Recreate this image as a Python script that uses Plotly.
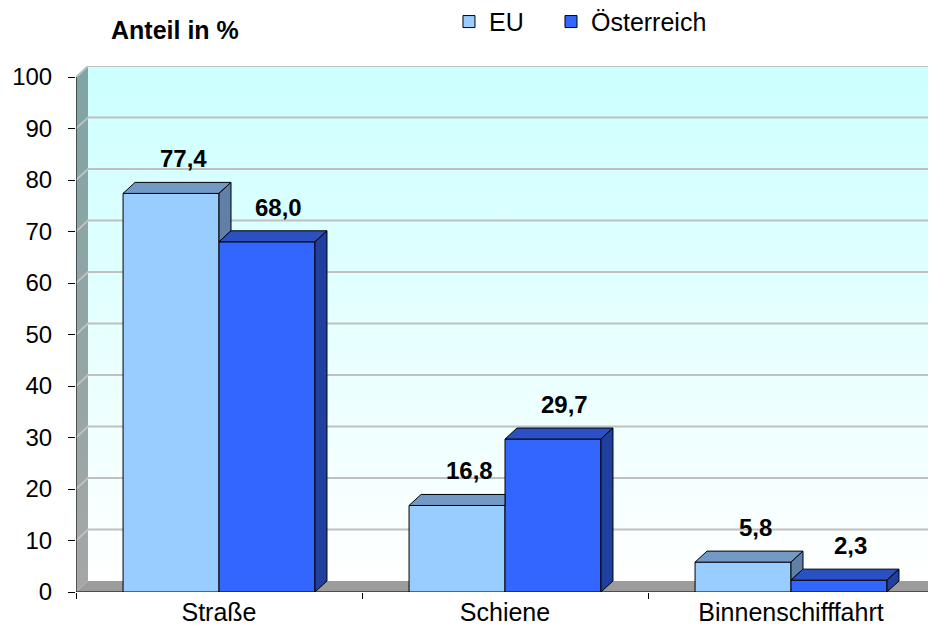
import plotly.graph_objects as go

# ---------------- data ----------------
categories = ["Straße", "Schiene", "Binnenschifffahrt"]
series_names = ["EU", "Österreich"]
eu_values = [77.4, 16.8, 5.8]
at_values = [68.0, 29.7, 2.3]
eu_labels = ["77,4", "16,8", "5,8"]
at_labels = ["68,0", "29,7", "2,3"]
y_tick_values = [0, 10, 20, 30, 40, 50, 60, 70, 80, 90, 100]
y_tick_text = ["0", "10", "20", "30", "40", "50", "60", "70", "80", "90", "100"]
title_text = "Anteil in %"

# ---------------- styling / geometry ----------------
FONT = "Liberation Sans, Arial, sans-serif"
DX = 0.042          # depth offset in category units
DY = 2.14           # depth offset in value units
BARW = 0.3355       # bar width in category units
XMIN, XMAX = -0.5, 2.5
YMAX = 100
YTOP = YMAX + DY
EU_FRONT, EU_TOP, EU_SIDE = "#99ccff", "#7399c6", "#6080a8"
AT_FRONT, AT_TOP, AT_SIDE = "#3366ff", "#2a50c4", "#2040a0"

fig = go.Figure()

# ---- back wall (gradient) ----
fig.add_trace(go.Scatter(
    x=[XMIN + DX, XMAX + 0.05, XMAX + 0.05, XMIN + DX, XMIN + DX],
    y=[DY, DY, YTOP, YTOP, DY],
    mode="lines", line=dict(width=0), fill="toself",
    fillgradient=dict(type="vertical", start=DY, stop=YTOP,
                      colorscale=[[0, "#ffffff"], [1, "#ccffff"]]),
    hoverinfo="skip", showlegend=False, xaxis="x", yaxis="y"))

# ---- left wall (gradient) ----
fig.add_trace(go.Scatter(
    x=[XMIN, XMIN + DX, XMIN + DX, XMIN, XMIN],
    y=[0, DY, YTOP, YMAX, 0],
    mode="lines", line=dict(width=0), fill="toself",
    fillgradient=dict(type="vertical", start=0, stop=YTOP,
                      colorscale=[[0, "#a6a6a6"], [1, "#80a4a4"]]),
    hoverinfo="skip", showlegend=False, xaxis="x", yaxis="y"))

# ---- floor ----
fig.add_trace(go.Scatter(
    x=[XMIN, XMAX + 0.05, XMAX + 0.05, XMIN + DX, XMIN],
    y=[0, 0, DY, DY, 0],
    mode="lines", line=dict(width=0), fill="toself", fillcolor="#9c9c9c",
    hoverinfo="skip", showlegend=False, xaxis="x", yaxis="y"))

# ---- gridlines on walls ----
gx, gy = [], []
for v in y_tick_values[1:]:
    gx += [XMIN, XMIN + DX, XMAX + 0.05, None]
    gy += [v, v + DY, v + DY, None]
fig.add_trace(go.Scatter(x=gx, y=gy, mode="lines",
                         line=dict(color="#c0c0c0", width=2),
                         hoverinfo="skip", showlegend=False, xaxis="x", yaxis="y"))

# ---- axis lines ----
fig.add_trace(go.Scatter(x=[XMIN, XMIN, None, XMIN, XMAX + 0.05],
                         y=[YMAX, 0, None, 0, 0], mode="lines",
                         line=dict(color="black", width=1),
                         hoverinfo="skip", showlegend=False, xaxis="x", yaxis="y"))

# ---- bars (front faces) on overlay axes ----
xpos = list(range(len(categories)))
fig.add_trace(go.Bar(x=xpos, y=eu_values, width=BARW, offset=-BARW,
                     name=series_names[0], legend="legend",
                     marker=dict(color=EU_FRONT, line=dict(color="black", width=1)),
                     xaxis="x2", yaxis="y2"))
fig.add_trace(go.Bar(x=xpos, y=at_values, width=BARW, offset=0,
                     name=series_names[1], legend="legend2",
                     marker=dict(color=AT_FRONT, line=dict(color="black", width=1)),
                     xaxis="x2", yaxis="y2"))


def poly(pts):
    return "M " + " L ".join(f"{x},{y}" for x, y in pts) + " Z"


shapes = []
for i, c in enumerate(xpos):
    he, ha = eu_values[i], at_values[i]
    exl, exr = c - BARW, c
    axl, axr = c, c + BARW
    # EU top face
    if ha < he:
        top = [(exl, he), (exr, he), (exr + DX, he + DY), (exl + DX, he + DY)]
    else:
        top = [(exl, he), (exr, he), (exr, he + DY), (exl + DX, he + DY)]
    shapes.append(dict(type="path", path=poly(top), xref="x2", yref="y2",
                       fillcolor=EU_TOP, line=dict(color="black", width=1), layer="above"))
    # EU side face (visible part above the Österreich bar)
    if he > ha:
        side = [(exr, ha), (exr, he), (exr + DX, he + DY), (exr + DX, ha + DY)]
        shapes.append(dict(type="path", path=poly(side), xref="x2", yref="y2",
                           fillcolor=EU_SIDE, line=dict(color="black", width=1), layer="above"))
    # Österreich top & side
    top = [(axl, ha), (axr, ha), (axr + DX, ha + DY), (axl + DX, ha + DY)]
    side = [(axr, 0), (axr, ha), (axr + DX, ha + DY), (axr + DX, DY)]
    shapes.append(dict(type="path", path=poly(top), xref="x2", yref="y2",
                       fillcolor=AT_TOP, line=dict(color="black", width=1), layer="above"))
    shapes.append(dict(type="path", path=poly(side), xref="x2", yref="y2",
                       fillcolor=AT_SIDE, line=dict(color="black", width=1), layer="above"))

annotations = []
for i, c in enumerate(xpos):
    annotations.append(dict(x=c - BARW / 2 + DX / 2, y=eu_values[i] + DY,
                            xref="x2", yref="y2", text=f"<b>{eu_labels[i]}</b>",
                            showarrow=False, yanchor="bottom", xshift=6, yshift=8,
                            font=dict(family=FONT, size=24, color="black")))
    annotations.append(dict(x=c + BARW / 2 + DX / 2, y=at_values[i] + DY,
                            xref="x2", yref="y2", text=f"<b>{at_labels[i]}</b>",
                            showarrow=False, yanchor="bottom", xshift=6, yshift=8,
                            font=dict(family=FONT, size=24, color="black")))
annotations.append(dict(x=0.1154, y=1.068, xref="paper", yref="paper",
                        text=f"<b>{title_text}</b>", showarrow=False,
                        xanchor="center", yanchor="middle",
                        font=dict(family=FONT, size=25, color="black")))

legend_common = dict(orientation="h", yanchor="middle", xanchor="left",
                     font=dict(family=FONT, size=25, color="black"),
                     bgcolor="rgba(0,0,0,0)", borderwidth=0)

# The page body adds an 8 px margin, so the figure is 8 px smaller than the window.
fig.update_layout(
    width=928, height=625,
    margin=dict(l=68, r=2, t=58, b=41, autoexpand=False),
    paper_bgcolor="white", plot_bgcolor="rgba(0,0,0,0)",
    font=dict(family=FONT, size=25, color="black"),
    barmode="overlay",
    showlegend=True,
    legend=dict(x=0.4347, y=1.084, **legend_common),
    legend2=dict(x=0.5536, y=1.084, **legend_common),
    xaxis=dict(range=[XMIN, XMAX], tickmode="array", tickvals=xpos, ticktext=categories,
               ticks="", showgrid=False, zeroline=False, showline=False, automargin=False,
               ticklabelstandoff=3,
               tickfont=dict(family=FONT, size=25, color="black"),
               minor=dict(tickmode="array", tickvals=[-0.5, 0.5, 1.5, 2.5],
                          ticks="outside", ticklen=6, tickcolor="black", tickwidth=1,
                          showgrid=False)),
    yaxis=dict(range=[0, YTOP], tickmode="array", tickvals=y_tick_values, ticktext=y_tick_text,
               ticks="outside", ticklen=7, tickcolor="black", showgrid=False,
               zeroline=False, showline=False, automargin=False,
               ticklabelstandoff=11,
               tickfont=dict(family=FONT, size=24, color="black")),
    xaxis2=dict(range=[XMIN, XMAX], overlaying="x", visible=False),
    yaxis2=dict(range=[0, YTOP], overlaying="y", visible=False),
    shapes=shapes,
    annotations=annotations,
)

fig.write_html("out.html")
